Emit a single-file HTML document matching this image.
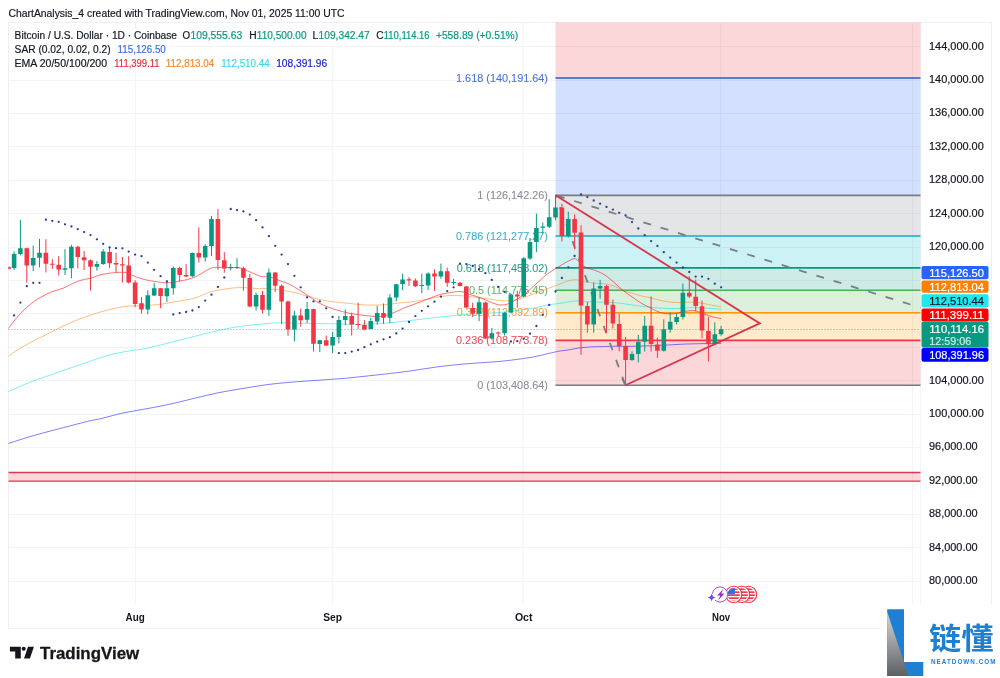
<!DOCTYPE html>
<html lang="en"><head><meta charset="utf-8"><title>BTCUSD chart</title>
<style>html,body{margin:0;padding:0;background:#fff;}body{width:1000px;height:678px;overflow:hidden;position:relative;}svg{position:absolute;left:0;top:0;display:block;}text{font-family:"Liberation Sans", sans-serif;fill:currentColor;stroke:currentColor;stroke-width:0.18px;}.ax{font-size:10px;color:#131722;}.lg{font-size:10px;color:#131722;}.fb{font-size:10px;text-anchor:end;stroke-width:0.08px;}.mo{font-size:10px;font-weight:700;color:#131722;text-anchor:middle;stroke-width:0;}.pl{font-size:10px;color:#fff;}</style></head><body>
<svg width="1000" height="678" viewBox="0 0 1000 678">
<rect x="0" y="0" width="1000" height="678" fill="#ffffff"/>
<rect x="8.5" y="22.5" width="983.0" height="606.0" fill="#fff" stroke="#eeeff2" stroke-width="1"/>
<path d="M8.5 581.5H920.5 M8.5 547.5H920.5 M8.5 514.5H920.5 M8.5 481.5H920.5 M8.5 447.5H920.5 M8.5 414.5H920.5 M8.5 380.5H920.5 M8.5 347.5H920.5 M8.5 313.5H920.5 M8.5 280.5H920.5 M8.5 247.5H920.5 M8.5 213.5H920.5 M8.5 180.5H920.5 M8.5 146.5H920.5 M8.5 113.5H920.5 M8.5 80.5H920.5 M8.5 46.5H920.5 M135.5 22.5V604.5 M332.3 22.5V604.5 M523.0 22.5V604.5 M720.6 22.5V604.5 M912.4 22.5V604.5" stroke="#f2f3f5" stroke-width="1" fill="none"/>
<path d="M920.5 22.5V628.5" stroke="#f4f5f9" stroke-width="1" fill="none"/>
<rect x="8.5" y="472.5" width="912.0" height="8.600000000000023" fill="rgba(242,54,69,0.2)"/>
<path d="M8.5 472.5H920.5M8.5 481.1H920.5" stroke="#d93a52" stroke-width="1.4" fill="none"/>
<rect x="555.5" y="22.5" width="365.0" height="55.5" fill="rgba(242,54,69,0.2)"/>
<rect x="555.5" y="78.0" width="365.0" height="117.4" fill="rgba(41,98,255,0.2)"/>
<rect x="555.5" y="195.4" width="365.0" height="40.6" fill="rgba(120,123,134,0.2)"/>
<rect x="555.5" y="236.0" width="365.0" height="31.9" fill="rgba(0,188,212,0.2)"/>
<rect x="555.5" y="267.9" width="365.0" height="22.4" fill="rgba(8,153,129,0.2)"/>
<rect x="555.5" y="290.3" width="365.0" height="22.4" fill="rgba(76,175,80,0.2)"/>
<rect x="555.5" y="312.7" width="365.0" height="27.7" fill="rgba(255,152,0,0.2)"/>
<rect x="555.5" y="340.4" width="365.0" height="44.8" fill="rgba(242,54,69,0.2)"/>
<path d="M555.5 78.0H920.5" stroke="#3559bd" stroke-width="1.6" fill="none"/>
<path d="M555.5 195.4H920.5" stroke="#787b86" stroke-width="1.6" fill="none"/>
<path d="M555.5 236.0H920.5" stroke="#1fa6c4" stroke-width="1.6" fill="none"/>
<path d="M555.5 267.9H920.5" stroke="#089981" stroke-width="1.6" fill="none"/>
<path d="M555.5 290.3H920.5" stroke="#4caf50" stroke-width="1.6" fill="none"/>
<path d="M555.5 312.7H920.5" stroke="#ff9800" stroke-width="1.6" fill="none"/>
<path d="M555.5 340.4H920.5" stroke="#f23645" stroke-width="1.6" fill="none"/>
<path d="M555.5 385.2H920.5" stroke="#787b86" stroke-width="1.6" fill="none"/>
<text class="fb" x="548" y="81.6" style="color:#4a72d8" textLength="92.0" lengthAdjust="spacingAndGlyphs">1.618 (140,191.64)</text>
<text class="fb" x="548" y="199.0" style="color:#8a8d96" textLength="70.8" lengthAdjust="spacingAndGlyphs">1 (126,142.26)</text>
<text class="fb" x="548" y="239.6" style="color:#3db2cc" textLength="92.0" lengthAdjust="spacingAndGlyphs">0.786 (121,277.27)</text>
<text class="fb" x="548" y="271.5" style="color:#2e9e8a" textLength="91.2" lengthAdjust="spacingAndGlyphs">0.618 (117,458.02)</text>
<text class="fb" x="548" y="293.9" style="color:#6ab56d" textLength="79.1" lengthAdjust="spacingAndGlyphs">0.5 (114,775.45)</text>
<text class="fb" x="548" y="316.3" style="color:#f0a63a" textLength="91.2" lengthAdjust="spacingAndGlyphs">0.382 (112,092.89)</text>
<text class="fb" x="548" y="344.0" style="color:#ee4d5a" textLength="92.0" lengthAdjust="spacingAndGlyphs">0.236 (108,773.78)</text>
<text class="fb" x="548" y="388.8" style="color:#8a8d96" textLength="70.8" lengthAdjust="spacingAndGlyphs">0 (103,408.64)</text>
<path d="M8.5 329.5H920.5" stroke="#5c8a80" stroke-width="1" stroke-dasharray="1 2" fill="none" opacity="0.75"/>
<path d="M8.4 443.5C12.0 442.4 21.4 439.1 30.0 436.6C38.6 434.1 50.0 431.1 60.0 428.5C70.0 425.9 83.3 422.4 90.0 420.8C96.7 419.2 94.3 420.1 100.0 418.8C105.7 417.5 116.0 414.5 124.0 412.8C132.0 411.1 140.0 410.0 148.0 408.5C156.0 407.0 164.0 405.5 172.0 403.7C180.0 401.9 188.0 399.8 196.0 397.9C204.0 396.0 212.0 394.0 220.0 392.4C228.0 390.8 236.0 389.6 244.0 388.3C252.0 387.0 260.0 385.5 268.0 384.5C276.0 383.5 284.0 382.8 292.0 382.1C300.0 381.4 308.0 381.0 316.0 380.4C324.0 379.8 334.3 379.1 340.0 378.7C345.7 378.3 343.3 378.5 350.0 377.8C356.7 377.1 370.0 375.7 380.0 374.6C390.0 373.5 400.0 372.4 410.0 371.0C420.0 369.6 430.0 367.8 440.0 366.5C450.0 365.2 460.0 364.4 470.0 363.5C480.0 362.6 490.0 362.4 500.0 361.4C510.0 360.4 522.0 358.8 530.0 357.5C538.0 356.2 543.0 354.7 548.0 353.6C553.0 352.5 556.5 351.6 560.0 351.0C563.5 350.4 566.0 350.4 569.0 349.9C572.0 349.4 575.0 348.6 578.0 348.1C581.0 347.7 584.0 347.4 587.0 347.2C590.0 347.0 591.5 346.8 596.0 346.7C600.5 346.6 608.0 346.4 614.0 346.3C620.0 346.2 626.0 346.4 632.0 346.3C638.0 346.2 644.0 346.0 650.0 345.8C656.0 345.6 662.0 345.3 668.0 345.0C674.0 344.7 680.0 344.2 686.0 344.0C692.0 343.8 698.1 343.7 704.0 343.6C709.9 343.5 718.3 343.4 721.2 343.4" stroke="#0000ff" stroke-width="1" fill="none" opacity="0.5"/>
<path d="M8.4 391.6C12.0 390.0 23.0 385.0 30.0 382.2C37.0 379.4 43.4 377.4 50.4 375.0C57.4 372.6 65.4 369.8 72.0 367.5C78.6 365.2 84.0 363.2 90.0 361.2C96.0 359.2 102.0 357.0 108.0 355.4C114.0 353.8 119.3 352.7 126.0 351.5C132.7 350.3 140.3 349.6 148.0 348.0C155.7 346.4 164.0 344.0 172.0 342.0C180.0 340.0 188.0 338.0 196.0 336.0C204.0 334.0 212.0 331.7 220.0 330.0C228.0 328.3 236.0 327.0 244.0 325.9C252.0 324.8 262.0 324.0 268.0 323.5C274.0 323.0 276.0 322.9 280.0 322.8C284.0 322.8 286.0 323.1 292.0 323.2C298.0 323.3 308.0 323.4 316.0 323.5C324.0 323.6 334.3 323.9 340.0 324.0C345.7 324.1 343.3 324.4 350.0 324.3C356.7 324.2 370.0 324.2 380.0 323.6C390.0 323.0 400.0 321.7 410.0 320.6C420.0 319.5 430.0 318.1 440.0 317.0C450.0 315.9 460.0 314.8 470.0 314.0C480.0 313.2 490.0 313.4 500.0 312.5C510.0 311.6 522.0 309.9 530.0 308.6C538.0 307.4 543.0 305.9 548.0 305.0C553.0 304.1 556.5 303.9 560.0 303.4C563.5 302.9 566.0 302.2 569.0 301.8C572.0 301.4 575.0 300.8 578.0 300.8C581.0 300.8 584.0 301.5 587.0 301.7C590.0 301.9 593.0 302.1 596.0 302.2C599.0 302.3 602.0 302.1 605.0 302.2C608.0 302.3 611.0 302.4 614.0 302.6C617.0 302.8 620.0 303.2 623.0 303.6C626.0 304.0 629.0 304.5 632.0 304.9C635.0 305.3 638.0 305.8 641.0 306.2C644.0 306.6 647.0 306.9 650.0 307.2C653.0 307.5 656.0 307.8 659.0 308.0C662.0 308.2 665.0 308.4 668.0 308.5C671.0 308.6 674.0 308.6 677.0 308.5C680.0 308.4 683.0 308.1 686.0 308.0C689.0 307.9 692.0 307.6 695.0 307.6C698.0 307.6 701.0 307.9 704.0 308.0C707.0 308.1 710.1 308.3 713.0 308.5C715.9 308.7 719.8 309.2 721.2 309.3" stroke="#00dfe8" stroke-width="1" fill="none" opacity="0.5"/>
<path d="M8.5 356.2C10.1 355.1 13.4 352.3 18.0 349.5C22.6 346.7 30.0 342.8 36.0 339.6C42.0 336.5 48.0 333.5 54.0 330.6C60.0 327.7 66.0 324.6 72.0 322.0C78.0 319.4 84.0 317.3 90.0 315.3C96.0 313.3 102.0 311.4 108.0 309.9C114.0 308.4 120.0 307.0 126.0 306.3C132.0 305.6 138.0 306.2 144.0 305.8C150.0 305.4 156.0 304.8 162.0 304.0C168.0 303.2 174.5 301.9 180.0 300.9C185.5 299.9 190.0 299.5 195.0 298.0C200.0 296.5 205.0 293.5 210.0 292.0C215.0 290.5 220.0 289.8 225.0 289.0C230.0 288.2 235.0 287.6 240.0 287.5C245.0 287.4 250.0 288.1 255.0 288.4C260.0 288.6 264.2 288.5 270.0 289.0C275.8 289.5 284.2 290.4 290.0 291.5C295.8 292.6 300.0 294.0 305.0 295.4C310.0 296.8 315.0 298.5 320.0 299.6C325.0 300.7 330.0 301.4 335.0 302.0C340.0 302.6 345.0 303.0 350.0 303.5C355.0 304.0 360.0 304.8 365.0 305.0C370.0 305.2 375.0 305.2 380.0 305.0C385.0 304.8 390.0 304.0 395.0 303.5C400.0 303.0 405.0 302.6 410.0 302.0C415.0 301.4 420.0 300.5 425.0 299.6C430.0 298.7 435.0 297.3 440.0 296.6C445.0 295.9 450.0 295.4 455.0 295.4C460.0 295.4 465.0 296.1 470.0 296.6C475.0 297.1 480.0 297.8 485.0 298.4C490.0 299.0 495.5 300.1 500.0 300.5C504.5 300.9 508.0 301.0 512.0 300.5C516.0 300.0 520.0 298.8 524.0 297.5C528.0 296.2 532.0 294.5 536.0 293.0C540.0 291.5 544.0 290.0 548.0 288.5C552.0 287.0 556.5 285.3 560.0 284.0C563.5 282.7 566.3 281.3 569.0 280.6C571.7 279.9 573.8 279.6 576.2 279.7C578.6 279.8 580.1 280.9 583.4 281.5C586.7 282.1 592.4 282.9 596.0 283.3C599.6 283.7 602.0 283.4 605.0 283.8C608.0 284.2 611.0 284.9 614.0 286.0C617.0 287.1 620.0 289.3 623.0 290.5C626.0 291.7 629.0 292.3 632.0 293.2C635.0 294.1 638.0 295.1 641.0 295.9C644.0 296.6 647.0 297.0 650.0 297.7C653.0 298.4 656.0 299.3 659.0 300.0C662.0 300.7 665.0 301.4 668.0 301.8C671.0 302.2 674.0 302.5 677.0 302.6C680.0 302.7 683.0 302.3 686.0 302.2C689.0 302.1 692.0 302.0 695.0 302.2C698.0 302.4 701.0 303.1 704.0 303.6C707.0 304.1 710.1 304.9 713.0 305.4C715.9 305.9 719.8 306.5 721.2 306.7" stroke="#ff7f00" stroke-width="1" fill="none" opacity="0.5"/>
<path d="M8.5 328.4C10.1 326.4 14.9 319.7 18.0 316.2C21.1 312.7 24.0 309.9 27.0 307.2C30.0 304.5 33.0 302.0 36.0 300.0C39.0 298.0 42.0 296.5 45.0 295.0C48.0 293.5 51.0 292.1 54.0 291.0C57.0 289.9 60.0 289.5 63.0 288.3C66.0 287.1 69.0 285.2 72.0 283.8C75.0 282.4 78.0 281.1 81.0 280.2C84.0 279.3 87.0 279.2 90.0 278.4C93.0 277.6 96.0 276.0 99.0 275.2C102.0 274.4 105.0 273.8 108.0 273.4C111.0 272.9 114.0 272.6 117.0 272.5C120.0 272.4 123.3 272.0 126.0 272.5C128.7 273.0 130.8 274.7 133.2 275.7C135.6 276.7 137.7 277.6 140.4 278.4C143.1 279.2 146.4 280.0 149.4 280.6C152.4 281.2 155.4 281.6 158.4 282.0C161.4 282.4 163.8 283.0 167.4 282.9C171.0 282.8 175.4 282.1 180.0 281.1C184.6 280.1 190.0 279.1 195.0 277.0C200.0 274.9 206.0 270.2 210.0 268.6C214.0 267.0 214.0 267.5 219.0 267.4C224.0 267.3 235.0 267.3 240.0 268.0C245.0 268.7 245.5 270.2 249.0 271.6C252.5 273.0 257.5 275.5 261.0 276.4C264.5 277.3 266.5 276.1 270.0 277.0C273.5 277.9 278.7 280.2 282.0 281.5C285.3 282.8 286.2 282.6 290.0 284.6C293.8 286.6 300.0 290.5 305.0 293.6C310.0 296.8 315.0 300.9 320.0 303.5C325.0 306.1 330.0 307.9 335.0 309.5C340.0 311.1 345.0 312.4 350.0 313.4C355.0 314.4 360.0 315.0 365.0 315.5C370.0 316.0 375.5 316.8 380.0 316.4C384.5 316.0 388.0 314.8 392.0 313.4C396.0 312.0 400.0 309.6 404.0 308.0C408.0 306.4 412.0 305.0 416.0 303.5C420.0 302.0 424.0 300.5 428.0 299.0C432.0 297.5 436.0 295.6 440.0 294.5C444.0 293.4 448.5 292.9 452.0 292.4C455.5 291.9 458.0 291.1 461.0 291.5C464.0 291.9 466.5 293.4 470.0 294.5C473.5 295.6 478.0 296.9 482.0 298.4C486.0 299.9 490.5 302.4 494.0 303.5C497.5 304.6 500.0 305.2 503.0 305.0C506.0 304.8 508.5 303.8 512.0 302.0C515.5 300.2 520.0 297.5 524.0 294.5C528.0 291.5 532.0 287.5 536.0 284.0C540.0 280.5 544.0 276.5 548.0 273.5C552.0 270.5 556.8 268.0 560.0 266.0C563.2 264.0 564.8 262.9 567.2 261.7C569.6 260.5 572.6 258.8 574.4 258.6C576.2 258.5 576.2 259.4 578.0 260.8C579.8 262.2 582.2 265.5 585.2 267.1C588.2 268.8 592.7 269.4 596.0 270.7C599.3 272.0 602.0 273.2 605.0 275.2C608.0 277.1 611.0 279.8 614.0 282.4C617.0 284.9 620.0 288.1 623.0 290.5C626.0 292.9 629.0 294.7 632.0 296.8C635.0 298.9 638.0 301.3 641.0 303.1C644.0 304.9 647.0 306.1 650.0 307.6C653.0 309.1 656.0 311.1 659.0 312.1C662.0 313.2 665.0 313.7 668.0 313.9C671.0 314.1 674.0 313.8 677.0 313.4C680.0 312.9 683.0 311.6 686.0 311.2C689.0 310.8 692.0 310.4 695.0 310.8C698.0 311.2 701.0 312.9 704.0 313.9C707.0 314.9 710.1 316.2 713.0 317.0C715.9 317.8 719.8 318.3 721.2 318.6" stroke="#ff0000" stroke-width="1" fill="none" opacity="0.55"/>
<path d="M555.6 195.3L625.4 385.2" stroke="#7b7d85" stroke-width="1.8" stroke-dasharray="7.8 10.26" stroke-dashoffset="5.3" fill="none"/>
<path d="M14.1 251.3V270.0 M20.4 219.7V255.4 M33.2 245.6V271.2 M39.5 238.8V267.4 M65.0 249.1V275.0 M71.4 244.9V278.3 M96.9 261.0V270.7 M103.2 249.1V264.9 M147.8 290.4V314.4 M154.2 282.9V296.2 M166.9 280.5V302.1 M173.3 266.6V294.6 M192.4 252.5V277.0 M205.2 244.2V261.8 M211.5 215.9V256.2 M230.7 263.7V270.3 M237.0 258.1V269.0 M256.1 292.6V310.2 M268.9 268.6V315.8 M294.4 311.0V341.4 M307.1 301.9V323.0 M319.8 339.8V352.1 M332.6 331.8V353.1 M338.9 315.8V343.5 M345.3 309.4V325.1 M370.8 317.7V329.4 M377.2 305.9V324.6 M389.9 294.2V323.0 M396.3 283.8V301.4 M402.6 273.7V290.0 M421.8 273.7V293.2 M428.1 272.4V290.0 M440.9 263.6V278.8 M453.6 278.8V285.2 M479.1 297.2V321.2 M491.8 327.9V339.6 M504.6 311.9V335.6 M510.9 293.2V313.2 M523.7 257.2V297.2 M530.0 237.9V260.0 M536.4 213.6V252.0 M542.8 222.4V233.6 M549.2 199.2V228.0 M555.5 195.2V220.3 M568.3 211.7V237.6 M593.7 282.5V332.7 M600.1 279.9V298.8 M632.0 351.3V360.9 M638.3 334.8V362.5 M644.7 316.1V351.6 M663.8 319.3V351.6 M670.2 312.4V332.7 M676.6 313.5V324.4 M682.9 283.6V319.6 M714.8 322.3V345.3 M721.1 325.8V335.7" stroke="#089981" stroke-width="1" fill="none"/>
<path d="M26.8 247.6V282.5 M45.9 239.3V272.4 M52.3 259.2V268.9 M58.7 256.2V275.4 M77.8 245.9V268.5 M84.1 250.9V270.0 M90.5 259.5V290.5 M109.6 247.1V268.2 M116.0 252.8V272.2 M122.4 256.9V282.5 M128.7 256.2V283.5 M135.1 280.2V307.2 M141.5 297.1V313.6 M160.6 287.9V308.2 M179.7 266.6V281.3 M186.1 264.2V277.3 M198.8 227.4V262.6 M217.9 209.0V269.8 M224.3 252.2V272.7 M243.4 266.6V290.6 M249.8 274.1V307.4 M262.5 291.0V313.4 M275.2 272.3V292.1 M281.6 284.3V324.1 M288.0 300.6V335.8 M300.7 308.6V326.7 M313.5 308.6V351.5 M326.2 335.5V346.2 M351.7 312.6V335.5 M358.1 302.7V328.9 M364.4 320.1V330.2 M383.5 303.5V323.8 M409.0 277.2V286.0 M415.4 278.5V287.1 M434.5 269.5V290.8 M447.2 267.6V286.8 M460.0 282.0V286.5 M466.3 286.0V308.4 M472.7 302.8V317.2 M485.4 301.5V339.3 M498.2 331.6V336.4 M517.3 290.8V307.6 M561.9 203.7V241.6 M574.6 214.4V249.6 M581.0 225.3V354.8 M587.4 302.0V332.7 M606.5 284.7V333.2 M612.9 299.6V328.4 M619.2 313.5V351.3 M625.6 336.9V385.2 M651.1 296.4V351.6 M657.4 337.5V358.0 M689.3 276.1V298.0 M695.7 279.6V311.3 M702.0 300.5V338.4 M708.4 316.6V361.4 M8.6 267.2H10.4V268.8H8.6Z" stroke="#f23645" stroke-width="1" fill="none"/>
<path d="M11.8 253.9H16.4V267.9H11.8Z M18.1 248.3H22.7V253.9H18.1Z M30.9 258.0H35.5V265.6H30.9Z M37.2 252.8H41.8V257.7H37.2Z M62.7 268.3H67.3V269.7H62.7Z M69.1 246.7H73.7V268.3H69.1Z M94.6 264.1H99.2V266.7H94.6Z M101.0 251.6H105.5V264.0H101.0Z M145.5 295.2H150.1V309.6H145.5Z M151.9 288.2H156.5V295.4H151.9Z M164.6 288.2H169.2V296.2H164.6Z M171.0 267.9H175.6V288.2H171.0Z M190.1 253.0H194.7V276.2H190.1Z M202.9 246.1H207.5V257.5H202.9Z M209.2 219.1H213.8V246.1H209.2Z M228.3 267.1H233.0V268.2H228.3Z M234.7 267.1H239.3V268.1H234.7Z M253.8 295.0H258.4V306.5H253.8Z M266.6 272.6H271.2V309.7H266.6Z M292.1 315.5H296.7V329.4H292.1Z M304.8 309.1H309.4V319.8H304.8Z M317.5 340.3H322.1V344.1H317.5Z M330.3 337.1H334.9V345.4H330.3Z M336.6 320.1H341.2V337.1H336.6Z M343.0 316.1H347.6V320.1H343.0Z M368.5 320.9H373.1V328.9H368.5Z M374.9 313.1H379.5V321.4H374.9Z M387.6 297.4H392.2V317.7H387.6Z M394.0 284.3H398.6V297.4H394.0Z M400.3 279.6H404.9V284.1H400.3Z M419.4 284.9H424.1V285.9H419.4Z M425.8 273.5H430.4V285.5H425.8Z M438.6 271.3H443.2V276.4H438.6Z M451.3 282.0H455.9V283.0H451.3Z M476.8 302.3H481.4V313.7H476.8Z M489.5 333.2H494.1V338.5H489.5Z M502.3 312.7H506.9V333.2H502.3Z M508.6 294.5H513.2V312.4H508.6Z M521.4 258.3H526.0V296.4H521.4Z M527.7 242.1H532.3V258.4H527.7Z M534.1 228.0H538.7V242.1H534.1Z M540.5 226.4H545.1V227.7H540.5Z M546.9 217.3H551.5V226.7H546.9Z M553.2 207.5H557.8V217.6H553.2Z M566.0 218.9H570.6V236.0H566.0Z M591.4 288.4H596.0V324.4H591.4Z M597.8 286.0H602.4V288.4H597.8Z M629.7 354.0H634.3V360.1H629.7Z M636.0 341.7H640.6V354.0H636.0Z M642.4 325.7H647.0V341.7H642.4Z M661.5 329.2H666.1V350.8H661.5Z M667.9 321.7H672.5V329.5H667.9Z M674.3 316.9H678.9V322.0H674.3Z M680.6 292.7H685.2V316.9H680.6Z M712.5 334.3H717.1V344.2H712.5Z M718.8 329.2H723.4V334.3H718.8Z" fill="#089981"/>
<path d="M24.5 248.2H29.1V265.6H24.5Z M43.6 252.8H48.2V263.7H43.6Z M50.0 263.7H54.6V264.7H50.0Z M56.4 264.7H61.0V269.4H56.4Z M75.5 246.7H80.1V256.9H75.5Z M81.8 257.2H86.4V260.2H81.8Z M88.2 260.2H92.8V266.7H88.2Z M107.3 251.9H111.9V263.2H107.3Z M113.7 263.1H118.3V264.6H113.7Z M120.1 264.3H124.7V265.5H120.1Z M126.4 265.5H131.0V282.5H126.4Z M132.8 282.5H137.4V304.0H132.8Z M139.2 303.2H143.8V309.6H139.2Z M158.3 288.2H162.9V295.9H158.3Z M177.4 267.9H182.0V274.9H177.4Z M183.8 274.9H188.4V276.5H183.8Z M196.5 253.0H201.1V257.5H196.5Z M215.6 219.1H220.2V259.9H215.6Z M222.0 260.2H226.6V268.5H222.0Z M241.1 268.2H245.7V277.8H241.1Z M247.5 278.0H252.1V306.6H247.5Z M260.2 295.0H264.8V309.7H260.2Z M272.9 272.6H277.5V285.7H272.9Z M279.3 285.7H283.9V301.4H279.3Z M285.7 301.4H290.3V329.4H285.7Z M298.4 315.5H303.0V320.3H298.4Z M311.2 309.1H315.8V343.8H311.2Z M323.9 340.3H328.5V345.4H323.9Z M349.4 316.1H354.0V324.6H349.4Z M355.8 324.1H360.4V325.1H355.8Z M362.1 324.9H366.7V329.4H362.1Z M381.2 313.1H385.8V317.7H381.2Z M406.7 279.3H411.3V280.4H406.7Z M413.1 280.4H417.7V286.3H413.1Z M432.2 273.5H436.8V276.4H432.2Z M444.9 271.3H449.5V282.8H444.9Z M457.7 282.8H462.3V286.0H457.7Z M464.0 286.5H468.6V307.6H464.0Z M470.4 307.9H475.0V313.5H470.4Z M483.1 302.5H487.8V338.5H483.1Z M495.9 332.4H500.5V333.4H495.9Z M515.0 294.5H519.6V296.4H515.0Z M559.6 207.5H564.2V236.0H559.6Z M572.3 218.9H576.9V232.8H572.3Z M578.7 232.5H583.3V305.5H578.7Z M585.1 306.0H589.7V324.4H585.1Z M604.2 286.0H608.8V304.7H604.2Z M610.6 304.7H615.1V323.6H610.6Z M616.9 324.1H621.5V346.0H616.9Z M623.3 346.0H627.9V359.9H623.3Z M648.8 325.7H653.4V343.9H648.8Z M655.1 344.4H659.7V350.8H655.1Z M687.0 292.7H691.6V296.4H687.0Z M693.4 296.7H698.0V306.0H693.4Z M699.7 306.2H704.3V330.4H699.7Z M706.1 330.9H710.7V344.2H706.1Z" fill="#f23645"/>
<g fill="#2c3a9c"><circle cx="14.1" cy="315.4" r="1.15"/><circle cx="20.4" cy="302.6" r="1.15"/><circle cx="26.8" cy="286.2" r="1.15"/><circle cx="33.2" cy="282.8" r="1.15"/><circle cx="39.5" cy="282.8" r="1.15"/><circle cx="45.9" cy="219.7" r="1.15"/><circle cx="52.3" cy="220.8" r="1.15"/><circle cx="58.7" cy="221.8" r="1.15"/><circle cx="65.0" cy="224.3" r="1.15"/><circle cx="71.4" cy="226.4" r="1.15"/><circle cx="77.8" cy="229.1" r="1.15"/><circle cx="84.1" cy="232.1" r="1.15"/><circle cx="90.5" cy="235.1" r="1.15"/><circle cx="96.9" cy="239.3" r="1.15"/><circle cx="103.2" cy="243.8" r="1.15"/><circle cx="109.6" cy="247.4" r="1.15"/><circle cx="116.0" cy="248.2" r="1.15"/><circle cx="122.4" cy="248.3" r="1.15"/><circle cx="128.7" cy="251.6" r="1.15"/><circle cx="135.1" cy="254.6" r="1.15"/><circle cx="141.5" cy="256.2" r="1.15"/><circle cx="147.8" cy="262.6" r="1.15"/><circle cx="154.2" cy="269.8" r="1.15"/><circle cx="160.6" cy="276.2" r="1.15"/><circle cx="166.9" cy="281.5" r="1.15"/><circle cx="173.3" cy="314.4" r="1.15"/><circle cx="179.7" cy="313.1" r="1.15"/><circle cx="186.1" cy="312.0" r="1.15"/><circle cx="192.4" cy="310.5" r="1.15"/><circle cx="198.8" cy="307.1" r="1.15"/><circle cx="205.2" cy="300.6" r="1.15"/><circle cx="211.5" cy="294.7" r="1.15"/><circle cx="217.9" cy="286.9" r="1.15"/><circle cx="224.3" cy="277.5" r="1.15"/><circle cx="230.7" cy="209.0" r="1.15"/><circle cx="237.0" cy="210.1" r="1.15"/><circle cx="243.4" cy="211.4" r="1.15"/><circle cx="249.8" cy="214.6" r="1.15"/><circle cx="256.1" cy="220.2" r="1.15"/><circle cx="262.5" cy="227.4" r="1.15"/><circle cx="268.9" cy="236.2" r="1.15"/><circle cx="275.2" cy="245.8" r="1.15"/><circle cx="281.6" cy="254.6" r="1.15"/><circle cx="288.0" cy="264.1" r="1.15"/><circle cx="294.4" cy="275.8" r="1.15"/><circle cx="300.7" cy="287.3" r="1.15"/><circle cx="307.1" cy="297.4" r="1.15"/><circle cx="313.5" cy="301.4" r="1.15"/><circle cx="319.8" cy="301.4" r="1.15"/><circle cx="326.2" cy="308.3" r="1.15"/><circle cx="332.6" cy="316.9" r="1.15"/><circle cx="338.9" cy="353.1" r="1.15"/><circle cx="345.3" cy="353.1" r="1.15"/><circle cx="351.7" cy="351.6" r="1.15"/><circle cx="358.1" cy="350.0" r="1.15"/><circle cx="364.4" cy="347.2" r="1.15"/><circle cx="370.8" cy="344.3" r="1.15"/><circle cx="377.2" cy="341.7" r="1.15"/><circle cx="383.5" cy="339.3" r="1.15"/><circle cx="389.9" cy="337.2" r="1.15"/><circle cx="396.3" cy="333.4" r="1.15"/><circle cx="402.6" cy="328.6" r="1.15"/><circle cx="409.0" cy="322.0" r="1.15"/><circle cx="415.4" cy="316.1" r="1.15"/><circle cx="421.8" cy="310.8" r="1.15"/><circle cx="428.1" cy="306.3" r="1.15"/><circle cx="434.5" cy="301.7" r="1.15"/><circle cx="440.9" cy="296.7" r="1.15"/><circle cx="447.2" cy="291.1" r="1.15"/><circle cx="453.6" cy="287.3" r="1.15"/><circle cx="460.0" cy="263.6" r="1.15"/><circle cx="466.3" cy="264.1" r="1.15"/><circle cx="472.7" cy="266.0" r="1.15"/><circle cx="479.1" cy="269.2" r="1.15"/><circle cx="485.4" cy="273.2" r="1.15"/><circle cx="491.8" cy="279.9" r="1.15"/><circle cx="498.2" cy="286.8" r="1.15"/><circle cx="504.6" cy="291.9" r="1.15"/><circle cx="510.9" cy="341.5" r="1.15"/><circle cx="517.3" cy="341.2" r="1.15"/><circle cx="523.7" cy="338.8" r="1.15"/><circle cx="530.0" cy="333.7" r="1.15"/><circle cx="536.4" cy="326.0" r="1.15"/><circle cx="542.8" cy="314.8" r="1.15"/><circle cx="549.2" cy="304.9" r="1.15"/><circle cx="555.5" cy="291.5" r="1.15"/><circle cx="561.9" cy="278.0" r="1.15"/><circle cx="568.3" cy="267.3" r="1.15"/><circle cx="574.6" cy="256.0" r="1.15"/><circle cx="581.0" cy="194.4" r="1.15"/><circle cx="587.4" cy="197.1" r="1.15"/><circle cx="593.7" cy="200.5" r="1.15"/><circle cx="600.1" cy="203.7" r="1.15"/><circle cx="606.5" cy="206.9" r="1.15"/><circle cx="612.9" cy="209.6" r="1.15"/><circle cx="619.2" cy="212.8" r="1.15"/><circle cx="625.6" cy="215.5" r="1.15"/><circle cx="632.0" cy="222.1" r="1.15"/><circle cx="638.3" cy="228.5" r="1.15"/><circle cx="644.7" cy="235.2" r="1.15"/><circle cx="651.1" cy="241.1" r="1.15"/><circle cx="657.4" cy="245.9" r="1.15"/><circle cx="663.8" cy="252.2" r="1.15"/><circle cx="670.2" cy="257.6" r="1.15"/><circle cx="676.6" cy="262.6" r="1.15"/><circle cx="682.9" cy="267.5" r="1.15"/><circle cx="689.3" cy="272.0" r="1.15"/><circle cx="695.7" cy="276.6" r="1.15"/><circle cx="702.0" cy="276.6" r="1.15"/><circle cx="708.4" cy="278.8" r="1.15"/><circle cx="714.8" cy="283.7" r="1.15"/><circle cx="721.1" cy="287.3" r="1.15"/></g>
<path d="M555.6 195.3L920.5 307.6" stroke="#7b7d85" stroke-width="1.8" stroke-dasharray="8 10.1" stroke-dashoffset="-1.3" fill="none"/>
<path d="M555.6 195.3L759.8 323.4L625.4 385.2" stroke="#d4364d" stroke-width="1.8" stroke-linejoin="miter" fill="none"/>
<path d="M622.1 378.6L625.2 384.8" stroke="#787b86" stroke-width="1.6" fill="none"/>
<rect x="10" y="29" width="512" height="15.5" fill="#fff"/><rect x="10" y="44.5" width="160" height="14" fill="#fff"/><rect x="10" y="58.5" width="321" height="14" fill="#fff"/>
<text class="lg" x="14.6" y="38.9" textLength="162.4" lengthAdjust="spacingAndGlyphs">Bitcoin / U.S. Dollar · 1D · Coinbase</text>
<text class="lg" x="182.6" y="38.9" textLength="7.6" lengthAdjust="spacingAndGlyphs">O</text>
<text class="lg" x="190.4" y="38.9" textLength="51.8" lengthAdjust="spacingAndGlyphs" style="color:#089981">109,555.63</text>
<text class="lg" x="249.2" y="38.9" textLength="7.4" lengthAdjust="spacingAndGlyphs">H</text>
<text class="lg" x="256.8" y="38.9" textLength="49.7" lengthAdjust="spacingAndGlyphs" style="color:#089981">110,500.00</text>
<text class="lg" x="312.6" y="38.9" textLength="5.8" lengthAdjust="spacingAndGlyphs">L</text>
<text class="lg" x="318.6" y="38.9" textLength="51.1" lengthAdjust="spacingAndGlyphs" style="color:#089981">109,342.47</text>
<text class="lg" x="376.2" y="38.9" textLength="7.4" lengthAdjust="spacingAndGlyphs">C</text>
<text class="lg" x="383.8" y="38.9" textLength="45.7" lengthAdjust="spacingAndGlyphs" style="color:#089981">110,114.16</text>
<text class="lg" x="435.9" y="38.9" textLength="82.3" lengthAdjust="spacingAndGlyphs" style="color:#089981">+558.89 (+0.51%)</text>
<text class="lg" x="14.6" y="53.0" textLength="96.0" lengthAdjust="spacingAndGlyphs">SAR (0.02, 0.02, 0.2)</text>
<text class="lg" x="117.6" y="53.0" textLength="48.2" lengthAdjust="spacingAndGlyphs" style="color:#3f6fe0">115,126.50</text>
<text class="lg" x="14.6" y="67.1" textLength="92.4" lengthAdjust="spacingAndGlyphs">EMA 20/50/100/200</text>
<text class="lg" x="114.3" y="67.1" textLength="45.3" lengthAdjust="spacingAndGlyphs" style="color:#e8323c">111,399.11</text>
<text class="lg" x="165.8" y="67.1" textLength="48.4" lengthAdjust="spacingAndGlyphs" style="color:#f28a30">112,813.04</text>
<text class="lg" x="221.2" y="67.1" textLength="48.6" lengthAdjust="spacingAndGlyphs" style="color:#3fd8e8">112,510.44</text>
<text class="lg" x="276.2" y="67.1" textLength="51.0" lengthAdjust="spacingAndGlyphs" style="color:#2222cc">108,391.96</text>
<text x="8.5" y="16.8" font-size="10.4" style="color:#131722" textLength="336" lengthAdjust="spacingAndGlyphs">ChartAnalysis_4 created with TradingView.com, Nov 01, 2025 11:00 UTC</text>
<text class="ax" x="929" y="584.1" textLength="48.6" lengthAdjust="spacingAndGlyphs">80,000.00</text>
<text class="ax" x="929" y="550.7" textLength="48.6" lengthAdjust="spacingAndGlyphs">84,000.00</text>
<text class="ax" x="929" y="517.3" textLength="48.6" lengthAdjust="spacingAndGlyphs">88,000.00</text>
<text class="ax" x="929" y="483.8" textLength="48.6" lengthAdjust="spacingAndGlyphs">92,000.00</text>
<text class="ax" x="929" y="450.4" textLength="48.6" lengthAdjust="spacingAndGlyphs">96,000.00</text>
<text class="ax" x="929" y="417.0" textLength="54.8" lengthAdjust="spacingAndGlyphs">100,000.00</text>
<text class="ax" x="929" y="383.6" textLength="54.8" lengthAdjust="spacingAndGlyphs">104,000.00</text>
<text class="ax" x="929" y="250.0" textLength="54.8" lengthAdjust="spacingAndGlyphs">120,000.00</text>
<text class="ax" x="929" y="216.5" textLength="54.8" lengthAdjust="spacingAndGlyphs">124,000.00</text>
<text class="ax" x="929" y="183.1" textLength="54.8" lengthAdjust="spacingAndGlyphs">128,000.00</text>
<text class="ax" x="929" y="149.7" textLength="54.8" lengthAdjust="spacingAndGlyphs">132,000.00</text>
<text class="ax" x="929" y="116.3" textLength="54.8" lengthAdjust="spacingAndGlyphs">136,000.00</text>
<text class="ax" x="929" y="82.9" textLength="54.8" lengthAdjust="spacingAndGlyphs">140,000.00</text>
<text class="ax" x="929" y="49.5" textLength="54.8" lengthAdjust="spacingAndGlyphs">144,000.00</text>
<rect x="921.5" y="265.9" width="67" height="13.4" rx="2" fill="#2962ff"/>
<text class="pl" x="929.2" y="276.8" style="color:#fff" textLength="54.8" lengthAdjust="spacingAndGlyphs">115,126.50</text>
<rect x="921.5" y="280.4" width="67" height="12.4" rx="2" fill="#ff8000"/>
<text class="pl" x="929.2" y="290.8" style="color:#fff" textLength="54.8" lengthAdjust="spacingAndGlyphs">112,813.04</text>
<rect x="921.5" y="294.2" width="67" height="13.4" rx="2" fill="#1ee8ee"/>
<text class="pl" x="929.2" y="305.1" style="color:#131722" textLength="54.8" lengthAdjust="spacingAndGlyphs">112,510.44</text>
<rect x="921.5" y="308.6" width="67" height="13.0" rx="2" fill="#ff0000"/>
<text class="pl" x="929.2" y="319.3" style="color:#fff" textLength="54.8" lengthAdjust="spacingAndGlyphs">111,399.11</text>
<rect x="921.5" y="347.9" width="67" height="13.9" rx="2" fill="#0000ff"/>
<text class="pl" x="929.2" y="359.1" style="color:#fff" textLength="54.8" lengthAdjust="spacingAndGlyphs">108,391.96</text>
<rect x="921.5" y="321.6" width="67" height="26.2" rx="2" fill="#089981"/>
<text class="pl" x="929.2" y="333.2" textLength="54.8" lengthAdjust="spacingAndGlyphs">110,114.16</text>
<text class="pl" x="929.2" y="345.2" opacity="0.8" textLength="42" lengthAdjust="spacingAndGlyphs">12:59:06</text>
<text class="mo" x="135.1" y="620.8" textLength="19.2" lengthAdjust="spacingAndGlyphs">Aug</text>
<text class="mo" x="332.6" y="620.8" textLength="18.8" lengthAdjust="spacingAndGlyphs">Sep</text>
<text class="mo" x="523.7" y="620.8" textLength="17.6" lengthAdjust="spacingAndGlyphs">Oct</text>
<text class="mo" x="721.1" y="620.8" textLength="18.2" lengthAdjust="spacingAndGlyphs">Nov</text>
<g id="icons">
<circle cx="748.6" cy="594.4" r="8.1" fill="#fff" stroke="#f23645" stroke-width="1.1"/>
<clipPath id="c748"><circle cx="748.6" cy="594.4" r="6.3"/></clipPath>
<g clip-path="url(#c748)"><rect x="741.6" y="587" width="14" height="15" fill="#fff"/><rect x="741.6" y="588.3" width="14" height="1.7" fill="#f23645"/><rect x="741.6" y="591.3" width="14" height="1.7" fill="#f23645"/><rect x="741.6" y="594.3" width="14" height="1.7" fill="#f23645"/><rect x="741.6" y="597.3" width="14" height="1.7" fill="#f23645"/><rect x="741.6" y="600.3" width="14" height="1.7" fill="#f23645"/></g>
<circle cx="741.6" cy="594.4" r="8.1" fill="#fff" stroke="#f23645" stroke-width="1.1"/>
<clipPath id="c741"><circle cx="741.6" cy="594.4" r="6.3"/></clipPath>
<g clip-path="url(#c741)"><rect x="734.6" y="587" width="14" height="15" fill="#fff"/><rect x="734.6" y="588.3" width="14" height="1.7" fill="#f23645"/><rect x="734.6" y="591.3" width="14" height="1.7" fill="#f23645"/><rect x="734.6" y="594.3" width="14" height="1.7" fill="#f23645"/><rect x="734.6" y="597.3" width="14" height="1.7" fill="#f23645"/><rect x="734.6" y="600.3" width="14" height="1.7" fill="#f23645"/></g>
<circle cx="733.7" cy="594.4" r="8.1" fill="#fff" stroke="#f23645" stroke-width="1.1"/>
<clipPath id="c733"><circle cx="733.7" cy="594.4" r="6.3"/></clipPath>
<g clip-path="url(#c733)"><rect x="726.7" y="587" width="14" height="15" fill="#fff"/><rect x="726.7" y="588.3" width="14" height="1.7" fill="#f23645"/><rect x="726.7" y="591.3" width="14" height="1.7" fill="#f23645"/><rect x="726.7" y="594.3" width="14" height="1.7" fill="#f23645"/><rect x="726.7" y="597.3" width="14" height="1.7" fill="#f23645"/><rect x="726.7" y="600.3" width="14" height="1.7" fill="#f23645"/><rect x="726.7" y="587" width="8.2" height="7.3" fill="#3d6be8"/></g>
<circle cx="720" cy="594.5" r="7.6" fill="#fff" stroke="#9c4fd6" stroke-width="1"/>
<path d="M723.4 588.8L717.2 595.4H720.2L718.2 600.2L724.4 593.4H721.2Z" fill="#9c27d0"/>
<circle cx="711.6" cy="597.6" r="4" fill="#fff"/>
<path d="M711.6 593.6Q712.3 596.9 715.6 597.6Q712.3 598.3 711.6 601.6Q710.9 598.3 707.6 597.6Q710.9 596.9 711.6 593.6Z" fill="#6a4fe0"/>
</g>
<path d="M9.9 646.8H20.8V658.5H15.2V651.6H9.9Z" fill="#17171b"/>
<circle cx="23.7" cy="648.7" r="2.05" fill="#17171b"/>
<path d="M28 646.8H33.9L29.9 658.5H24Z" fill="#17171b"/>
<text x="40" y="658.5" font-size="16.4" font-weight="700" style="color:#17171b;stroke-width:0.3px" textLength="99.2" lengthAdjust="spacingAndGlyphs">TradingView</text>
<rect x="880" y="604" width="120" height="74" fill="#fff"/>
<defs><linearGradient id="gg" x1="0" y1="0" x2="0" y2="1"><stop offset="0" stop-color="#d8d8d8"/><stop offset="1" stop-color="#5c5f63"/></linearGradient></defs>
<path d="M887.2 609.3H904V662H923.3V676H887.2Z" fill="#1f7fd1"/>
<path d="M887.2 612L908.5 676H887.2Z" fill="url(#gg)"/>
<text x="929" y="649" font-size="30" font-weight="700" textLength="64.5" lengthAdjust="spacingAndGlyphs" style="color:#1f7fd1;stroke-width:0;font-family:'Liberation Sans','Noto Sans CJK SC',sans-serif">链懂</text>
<text x="931" y="664" font-size="6.3" font-weight="700" style="color:#1f7fd1;stroke-width:0" textLength="64.5" lengthAdjust="spacing">NEATDOWN.COM</text>
</svg></body></html>
